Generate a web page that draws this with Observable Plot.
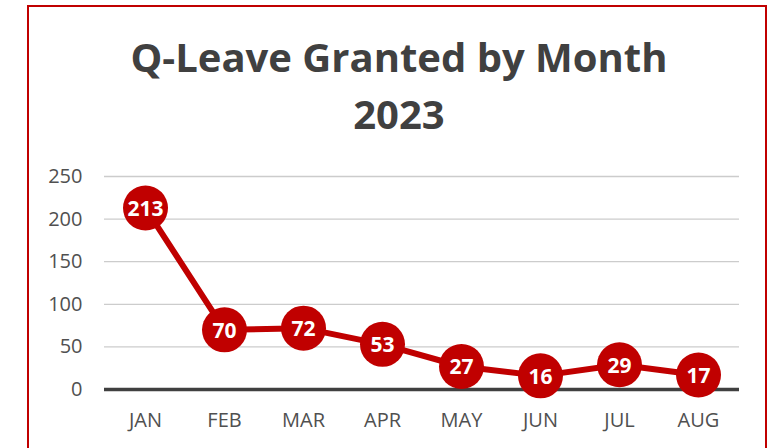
<!DOCTYPE html>
<html><head><meta charset="utf-8">
<script src="https://cdn.jsdelivr.net/npm/d3@7"></script>
<script src="https://cdn.jsdelivr.net/npm/@observablehq/plot@0.6"></script>
<style>
body{margin:0;background:#fff;width:773px;height:448px;overflow:hidden;position:relative;font-family:"Open Sans",sans-serif;}
#frame{position:absolute;left:27px;top:5px;width:740px;height:460px;border:2px solid #C00000;box-sizing:border-box;}
.title{position:absolute;left:0;width:798px;text-align:center;font-weight:700;font-size:40px;color:#404040;line-height:1;white-space:nowrap;}
#chart{position:absolute;left:0;top:150px;}
</style></head><body>
<div id="frame"></div>
<div class="title" id="t1" style="top:37px">Q-Leave Granted by Month</div>
<div class="title" id="t2" style="top:94px">2023</div>
<div id="chart"></div>
<script>
const months = ["JAN","FEB","MAR","APR","MAY","JUN","JUL","AUG"];
const granted = [213,70,72,53,27,16,29,17];
const yTicks = [0,50,100,150,200,250];
const data = months.map((m,i)=>({month:m, value:granted[i]}));
const red = "#C00000";
const plot = Plot.plot({
  width: 773, height: 298,
  marginLeft: 104, marginRight: 34, marginTop: 26, marginBottom: 59,
  style: {fontFamily: "'Open Sans', sans-serif", fontSize: "20px", color: "#505050", background: "transparent"},
  x: {type: "point", domain: months, padding: 0.5, label: null},
  y: {domain: [0,250], ticks: yTicks, label: null},
  marks: [
    Plot.gridY(yTicks.filter(d=>d>0), {stroke: "#cccccc", strokeOpacity: 1, strokeWidth: 1.3}),
    Plot.axisY({ticks: yTicks, tickSize: 0, tickPadding: 22, label: null, fontSize: 20}),
    Plot.axisX({tickSize: 0, tickPadding: 23, label: null, fontSize: 20}),
    Plot.ruleY([0], {stroke: "#404040", strokeWidth: 3.5}),
    Plot.line(data, {x: "month", y: "value", stroke: red, strokeWidth: 6}),
    Plot.dot(data, {x: "month", y: "value", r: 22.5, fill: red, stroke: "none"}),
    Plot.text(data, {x: "month", y: "value", text: d=>String(d.value), fill: "white", fontWeight: "bold", fontSize: 21, dy: 1})
  ]
});
document.getElementById("chart").appendChild(plot);
</script>
</body></html>
